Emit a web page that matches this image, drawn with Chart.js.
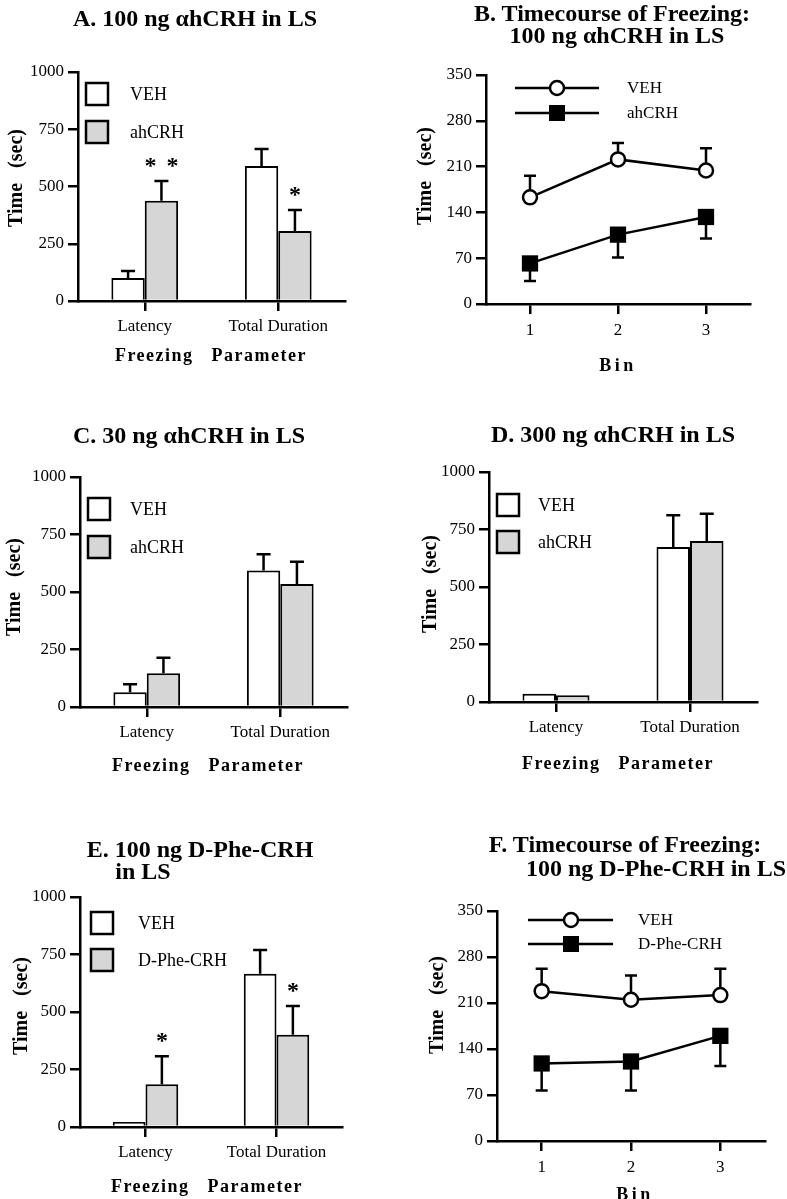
<!DOCTYPE html>
<html>
<head>
<meta charset="utf-8">
<script src="https://cdn.jsdelivr.net/npm/chart.js@4.4.1/dist/chart.umd.min.js"></script>
<style>
  body { margin: 0; background: #fff; }
  #page { position: relative; width: 787px; height: 1199px; background: #fff; overflow: hidden;
          font-family: 'Liberation Serif', 'DejaVu Serif', serif; color: #000; }
  canvas { position: absolute; }
  .txt { position: absolute; white-space: pre; transform: translate(-50%, -50%); line-height: 1; }
  .title { font-size: 24px; font-weight: bold; }
  .ytitle { font-size: 20px; font-weight: bold; transform: translate(-50%, -50%) rotate(-90deg); }
  .xtitle { font-size: 18px; font-weight: bold; letter-spacing: 1.5px; }
  .bin { font-size: 18px; font-weight: bold; letter-spacing: 3.5px; }
</style>
</head>
<body>
<div id="page"></div>
<script>
// categories / tick labels
const groups = ['Latency', 'Total Duration'];
const bins = ['1', '2', '3'];
const barTicks = [0, 250, 500, 750, 1000];
const lineTicks = [0, 70, 140, 210, 280, 350];

// A. 100 ng ahCRH in LS
const vehA = [100, 590], vehA_sem = [31, 74];
const ahcrhA = [438, 306], ahcrhA_sem = [86, 91];
const starsA = [[1, 0, 2], [1, 1, 1]]; // dataset, index, number of stars

// B. timecourse, 100 ng ahCRH
const vehB = [163, 221, 204], vehB_sem = [33, 25, 34];
const ahcrhB = [62, 106, 133], ahcrhB_sem = [27, 35, 33];

// C. 30 ng ahCRH
const vehC = [64, 593], vehC_sem = [35, 71];
const ahcrhC = [147, 535], ahcrhC_sem = [67, 97];

// D. 300 ng ahCRH
const vehD = [36, 674], vehD_sem = [0, 138];
const ahcrhD = [29, 700], ahcrhD_sem = [0, 119];

// E. 100 ng D-Phe-CRH
const vehE = [22, 666], vehE_sem = [0, 104];
const dpheE = [186, 401], dpheE_sem = [122, 125];
const starsE = [[1, 0, 1], [1, 1, 1]];

// F. timecourse, 100 ng D-Phe-CRH
const vehF = [228, 215, 222], vehF_sem = [34, 37, 40];
const dpheF = [118, 121, 160], dpheF_sem = [41, 44, 46];

const FONT = "'Liberation Serif', 'DejaVu Serif', serif";
const page = document.getElementById('page');

function addText(text, x, y, cls) {
  const d = document.createElement('div');
  d.className = 'txt ' + cls;
  d.textContent = text;
  d.style.left = x + 'px';
  d.style.top = y + 'px';
  page.appendChild(d);
}

// error bars (T shaped, one direction only)
const errorBars = {
  id: 'errorBars',
  beforeDatasetsDraw(chart, args, opts) {
    const ctx = chart.ctx, y = chart.scales.y;
    ctx.save();
    ctx.strokeStyle = '#000';
    ctx.lineWidth = 2.5;
    chart.data.datasets.forEach((ds, i) => {
      if (!ds.sem) return;
      chart.getDatasetMeta(i).data.forEach((el, j) => {
        const s = ds.sem[j];
        if (!s) return;
        const v = ds.data[j];
        const y0 = y.getPixelForValue(v);
        const y1 = y.getPixelForValue(v + (ds.errDir || 1) * s);
        ctx.beginPath();
        ctx.moveTo(el.x, y0); ctx.lineTo(el.x, y1);
        ctx.moveTo(el.x - opts.cap / 2, y1); ctx.lineTo(el.x + opts.cap / 2, y1);
        ctx.stroke();
      });
    });
    ctx.restore();
  }
};

// significance stars above error bars
const stars = {
  id: 'stars',
  afterDatasetsDraw(chart, args, opts) {
    if (!opts.list) return;
    const ctx = chart.ctx, y = chart.scales.y;
    ctx.save();
    ctx.fillStyle = '#000';
    ctx.font = 'bold 24px ' + FONT;
    ctx.textAlign = 'center';
    ctx.textBaseline = 'alphabetic';
    opts.list.forEach(([di, j, n]) => {
      const ds = chart.data.datasets[di];
      const el = chart.getDatasetMeta(di).data[j];
      const py = y.getPixelForValue(ds.data[j] + (ds.sem[j] || 0)) - 20;
      for (let k = 0; k < n; k++) {
        const px = el.x + (k - (n - 1) / 2) * 22;
        ctx.fillText('*', px, py + 12);
      }
    });
    ctx.restore();
  }
};

// legend drawn inside the plot area
const innerLegend = {
  id: 'innerLegend',
  afterDraw(chart, args, opts) {
    const ctx = chart.ctx, a = chart.chartArea;
    ctx.save();
    ctx.font = opts.fontSize + 'px ' + FONT;
    ctx.textBaseline = 'middle';
    ctx.textAlign = 'left';
    chart.data.datasets.forEach((ds, i) => {
      const cy = a.top + opts.rows[i];
      ctx.strokeStyle = '#000';
      if (opts.kind === 'box') {
        ctx.lineWidth = 2.5;
        ctx.fillStyle = ds.backgroundColor;
        ctx.fillRect(a.left + opts.dx, cy - 11, 22, 22);
        ctx.strokeRect(a.left + opts.dx, cy - 11, 22, 22);
      } else {
        ctx.lineWidth = 2.5;
        ctx.beginPath();
        ctx.moveTo(a.left + opts.lx0, cy); ctx.lineTo(a.left + opts.lx1, cy);
        ctx.stroke();
        const mx = a.left + opts.dx;
        ctx.fillStyle = ds.pointBackgroundColor;
        if (ds.pointStyle === 'rect') {
          ctx.fillRect(mx - 8, cy - 8, 16, 16);
        } else {
          ctx.beginPath();
          ctx.arc(mx, cy, ds.pointRadius, 0, Math.PI * 2);
          ctx.fill(); ctx.stroke();
        }
      }
      ctx.fillStyle = '#000';
      ctx.fillText(ds.label, a.left + opts.textDx, cy + 1);
    });
    ctx.restore();
  }
};

function axisOpts(extra) {
  return Object.assign({
    grid: { drawOnChartArea: false, drawTicks: true, tickLength: 10, color: '#000', lineWidth: 2.5, offset: false },
    border: { display: true, color: '#000', width: 2.5 }
  }, extra);
}

function makePanel(box, area, type, labels, datasets, tickList, yMax, legend, starList) {
  const c = document.createElement('canvas');
  c.width = box.w; c.height = box.h;
  c.style.left = box.left + 'px'; c.style.top = box.top + 'px';
  c.style.width = box.w + 'px'; c.style.height = box.h + 'px';
  page.appendChild(c);
  const yWidth = area.l - box.left;
  const xHeight = box.top + box.h - area.b;
  new Chart(c, {
    type: type,
    data: { labels: labels, datasets: datasets },
    options: {
      responsive: false,
      animation: false,
      events: [],
      layout: { padding: { left: 0, bottom: 0, top: area.t - box.top, right: box.left + box.w - area.r } },
      plugins: {
        legend: { display: false },
        title: { display: false },
        tooltip: { enabled: false },
        errorBars: { cap: type === 'bar' ? 14 : 12 },
        stars: { list: starList },
        innerLegend: legend
      },
      scales: {
        x: axisOpts({
          type: 'category', offset: true,
          ticks: { color: '#000', font: { family: FONT, size: 17 }, padding: type === 'bar' ? 5 : 6, maxRotation: 0 },
          afterFit(s) { s.height = xHeight; }
        }),
        y: axisOpts({
          min: 0, max: yMax,
          ticks: { color: '#000', font: { family: FONT, size: 17 }, padding: 4, callback: v => String(v) },
          afterBuildTicks(s) { s.ticks = tickList.map(v => ({ value: v })); },
          afterFit(s) { s.width = yWidth; }
        })
      }
    },
    plugins: [errorBars, stars, innerLegend]
  });
}

function barSet(label, data, sem, fill) {
  return { label, data, sem, errDir: 1, backgroundColor: fill, borderColor: '#000', borderWidth: 2,
           categoryPercentage: 0.5, barPercentage: 1.0 };
}
function lineSet(label, data, sem, dir, style) {
  const open = style === 'circle';
  return { label, data, sem, errDir: dir, borderColor: '#000', borderWidth: 2.5, tension: 0, clip: false,
           pointStyle: style, pointRadius: open ? 7 : 11.5,
           pointBackgroundColor: open ? '#fff' : '#000', pointBorderColor: '#000', pointBorderWidth: open ? 2.5 : 0 };
}

const WHITE = '#ffffff', GREY = '#d6d6d6';

// A
makePanel({ left: 0, top: 0, w: 390, h: 380 }, { l: 78, r: 345, t: 72, b: 301 }, 'bar', groups,
  [barSet('VEH', vehA, vehA_sem, WHITE), barSet('ahCRH', ahcrhA, ahcrhA_sem, GREY)],
  barTicks, 1000, { kind: 'box', dx: 8, rows: [22, 60], textDx: 52, fontSize: 18 }, starsA);
// B
makePanel({ left: 390, top: 0, w: 397, h: 380 }, { l: 486, r: 750, t: 75, b: 304 }, 'line', bins,
  [lineSet('VEH', vehB, vehB_sem, 1, 'circle'), lineSet('ahCRH', ahcrhB, ahcrhB_sem, -1, 'rect')],
  lineTicks, 350, { kind: 'line', lx0: 29, lx1: 113, dx: 71, rows: [13, 38], textDx: 141, fontSize: 17 }, null);
// C
makePanel({ left: 0, top: 380, w: 390, h: 400 }, { l: 80, r: 347, t: 477, b: 707 }, 'bar', groups,
  [barSet('VEH', vehC, vehC_sem, WHITE), barSet('ahCRH', ahcrhC, ahcrhC_sem, GREY)],
  barTicks, 1000, { kind: 'box', dx: 8, rows: [32, 70], textDx: 50, fontSize: 18 }, null);
// D
makePanel({ left: 390, top: 380, w: 397, h: 400 }, { l: 489, r: 757, t: 472, b: 702 }, 'bar', groups,
  [barSet('VEH', vehD, vehD_sem, WHITE), barSet('ahCRH', ahcrhD, ahcrhD_sem, GREY)],
  barTicks, 1000, { kind: 'box', dx: 8, rows: [33, 70], textDx: 49, fontSize: 18 }, null);
// E
makePanel({ left: 0, top: 780, w: 390, h: 419 }, { l: 80, r: 342, t: 897, b: 1127 }, 'bar', groups,
  [barSet('VEH', vehE, vehE_sem, WHITE), barSet('D-Phe-CRH', dpheE, dpheE_sem, GREY)],
  barTicks, 1000, { kind: 'box', dx: 11, rows: [26, 63], textDx: 58, fontSize: 18 }, starsE);
// F
makePanel({ left: 390, top: 780, w: 397, h: 419 }, { l: 497, r: 765, t: 911, b: 1141 }, 'line', bins,
  [lineSet('VEH', vehF, vehF_sem, 1, 'circle'), lineSet('D-Phe-CRH', dpheF, dpheF_sem, -1, 'rect')],
  lineTicks, 350, { kind: 'line', lx0: 31, lx1: 116, dx: 74, rows: [9, 33], textDx: 141, fontSize: 17 }, null);

// titles and axis titles
addText('A. 100 ng \u03b1hCRH in LS', 195, 18, 'title');
addText('B. Timecourse of Freezing:', 612, 13, 'title');
addText('100 ng \u03b1hCRH in LS', 617, 35, 'title');
addText('C. 30 ng \u03b1hCRH in LS', 189, 435, 'title');
addText('D. 300 ng \u03b1hCRH in LS', 613, 434, 'title');
addText('E. 100 ng D-Phe-CRH', 200, 849, 'title');
addText('in LS', 143, 871, 'title');
addText('F. Timecourse of Freezing:', 625, 844, 'title');
addText('100 ng D-Phe-CRH in LS', 656, 868, 'title');

addText('Time   (sec)', 15, 178, 'ytitle');
addText('Time   (sec)', 424, 176, 'ytitle');
addText('Time   (sec)', 13, 587, 'ytitle');
addText('Time   (sec)', 429, 584, 'ytitle');
addText('Time   (sec)', 20, 1006, 'ytitle');
addText('Time   (sec)', 436, 1005, 'ytitle');

addText('Freezing   Parameter', 211, 355, 'xtitle');
addText('Freezing   Parameter', 208, 765, 'xtitle');
addText('Freezing   Parameter', 618, 763, 'xtitle');
addText('Freezing   Parameter', 207, 1186, 'xtitle');
addText('Bin', 618, 365, 'bin');
addText('Bin', 635, 1194, 'bin');
</script>
</body>
</html>
